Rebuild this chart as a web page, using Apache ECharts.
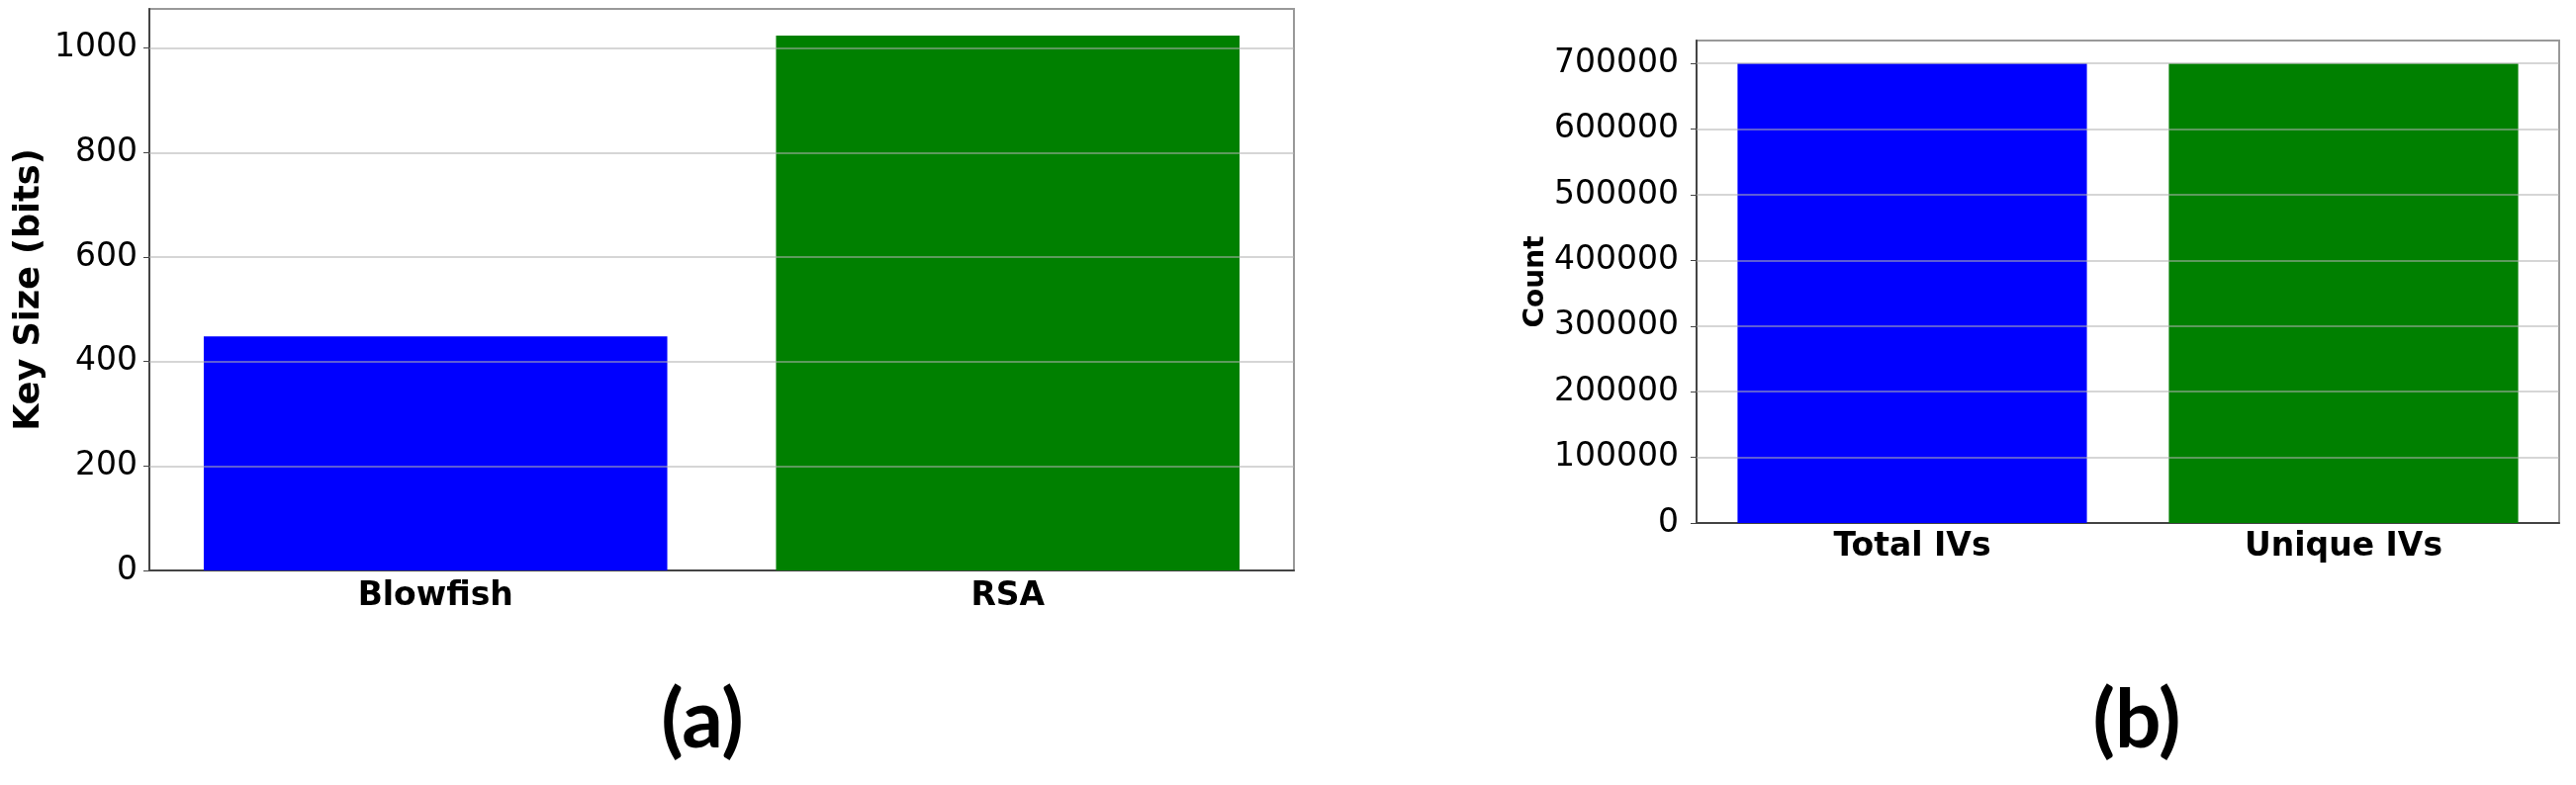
<!DOCTYPE html>
<html>
<head>
<meta charset="utf-8">
<script src="https://cdn.jsdelivr.net/npm/echarts@6/dist/echarts.min.js"></script>
<style>
  html, body { margin: 0; padding: 0; background: #fff; }
  #chart { width: 2604px; height: 794px; }
</style>
</head>
<body>
<div id="chart"></div>
<script>
// (a) key sizes
const keyCategories = ['Blowfish', 'RSA'];
const keySizes = [448, 1024];
const keyTicks = [0, 200, 400, 600, 800, 1000];
// (b) IV counts
const ivCategories = ['Total IVs', 'Unique IVs'];
const ivCounts = [700000, 700000];
const ivTicks = [0, 100000, 200000, 300000, 400000, 500000, 600000, 700000];
const barColors = ['#0000ff', '#008000'];

const tickFont = { fontSize: 33, fontFamily: 'DejaVu Sans', color: '#000' };
const gridLine = { color: 'rgba(176,176,176,0.7)', type: 'solid', width: 1.5 };

const makeXAxis = (gridIndex, cats, margin) => ({
  type: 'category',
  gridIndex: gridIndex,
  data: cats,
  axisLine: { lineStyle: { color: '#444', width: 2 } },
  axisTick: { alignWithLabel: true, length: 6, lineStyle: { color: '#444' } },
  axisLabel: { ...tickFont, fontWeight: 'bold', margin: margin },
  splitLine: { show: false }
});

const makeYAxis = (gridIndex, max, ticks, name, nameSize, nameGap, labelMargin) => ({
  type: 'value',
  gridIndex: gridIndex,
  min: 0,
  max: max,
  name: name,
  nameLocation: 'middle',
  nameGap: nameGap,
  nameTextStyle: { fontSize: nameSize, fontWeight: 'bold', fontFamily: 'DejaVu Sans', color: '#000' },
  axisLine: { show: true, lineStyle: { color: '#444', width: 2 } },
  axisTick: { show: true, length: 6, customValues: ticks, lineStyle: { color: '#444' } },
  axisLabel: { ...tickFont, margin: labelMargin, customValues: ticks, formatter: v => String(v) },
  splitLine: { show: false }
});

const makeSeries = (idx, values, ticks) => ({
  type: 'bar',
  xAxisIndex: idx,
  yAxisIndex: idx,
  barWidth: '81%',
  data: values.map((v, i) => ({ value: v, itemStyle: { color: barColors[i] } })),
  markLine: {
    silent: true,
    symbol: 'none',
    label: { show: false },
    lineStyle: gridLine,
    data: ticks.filter(t => t > 0).map(t => ({ yAxis: t }))
  }
});

const chart = echarts.init(document.getElementById('chart'));
chart.setOption({
  animation: false,
  backgroundColor: '#fff',
  grid: [
    { left: 151, top: 9, right: 1296, bottom: 217, show: true, borderColor: '#999', borderWidth: 2 },
    { left: 1715, top: 41, right: 17, bottom: 265, show: true, borderColor: '#999', borderWidth: 2 }
  ],
  xAxis: [
    makeXAxis(0, keyCategories, 10),
    makeXAxis(1, ivCategories, 8)
  ],
  yAxis: [
    makeYAxis(0, 1075.2, keyTicks, 'Key Size (bits)', 35, 104, 12),
    makeYAxis(1, 735000, ivTicks, 'Count', 28, 145, 18)
  ],
  series: [
    makeSeries(0, keySizes, keyTicks),
    makeSeries(1, ivCounts, ivTicks)
  ],
  graphic: [
    { type: 'text', x: 710, y: 730, style: { text: '(a)', fontSize: 82, fontWeight: 'bold', fontFamily: 'Lato', fill: '#000', align: 'center', verticalAlign: 'middle' } },
    { type: 'text', x: 2160, y: 730, style: { text: '(b)', fontSize: 82, fontWeight: 'bold', fontFamily: 'Lato', fill: '#000', align: 'center', verticalAlign: 'middle' } }
  ]
});
</script>
</body>
</html>
